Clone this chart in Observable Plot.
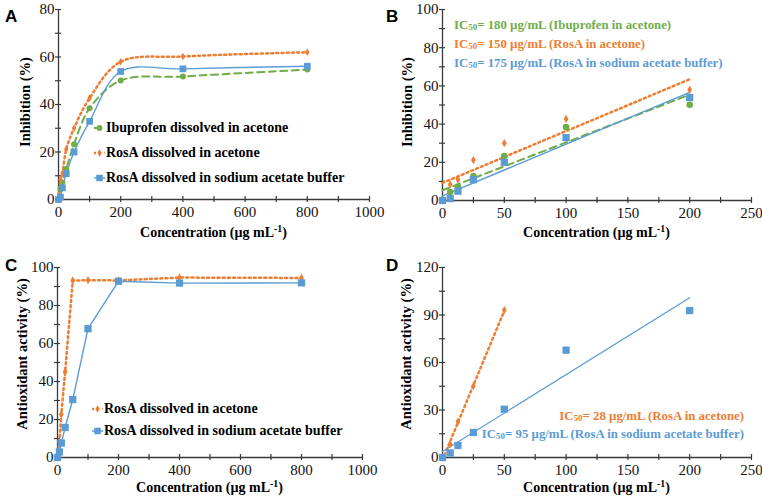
<!DOCTYPE html>
<html><head><meta charset="utf-8">
<script src="https://cdn.jsdelivr.net/npm/d3@7"></script>
<script src="https://cdn.jsdelivr.net/npm/@observablehq/plot@0.6"></script>
<style>
body{margin:0;background:#fff;}
#wrap{position:relative;width:762px;height:500px;font-family:'Liberation Serif',serif;color:#000;overflow:hidden;}
.panel{position:absolute;width:381px;height:250px;}
.plab{position:absolute;font-family:'Liberation Sans',sans-serif;font-weight:bold;font-size:17px;line-height:1;}
.t{position:absolute;font-weight:bold;white-space:nowrap;line-height:1;font-family:'Liberation Serif',serif;}
.xt{font-size:14px;text-align:center;}
.yt{font-size:14.5px;transform:translate(-50%,-50%) rotate(-90deg);}
.leg{font-size:14px;display:flex;align-items:center;transform:translateY(-50%);}
.leg svg{margin-right:1px;}
.ann{font-size:12.8px;transform:translateY(-50%);}
sub{font-size:70%;vertical-align:-0.2em;line-height:0;}
sup{font-size:70%;vertical-align:0.5em;line-height:0;}
</style>
</head><body>
<div id="wrap"></div>
<script>
// ---------------- data ----------------
const conc = [0, 6.25, 12.5, 25, 50, 100, 200, 400, 800];
// Inhibition (%) – panels A and B
const inhIbuprofenAcetone = [0, 4.4, 7.2, 12.8, 23.3, 38.4, 50.1, 51.8, 54.7];
const inhRosAAcetone      = [0, 8.4, 11.0, 21.2, 30.0, 42.7, 58.0, 60.2, 62.0];
const inhRosABuffer       = [0, 1.0, 4.9, 10.9, 20.0, 32.9, 53.9, 55.0, 56.1];
// Antioxidant activity (%) – panels C and D
const antiRosAAcetone = [0, 8.4, 22.7, 45.1, 93.1, 93.3, 93.2, 94.7, 94.5];
const antiRosABuffer  = [0, 2.9, 7.6, 15.8, 30.5, 67.8, 92.8, 91.8, 91.9];

const seriesNames = ["Ibuprofen dissolved in acetone", "RosA dissolved in acetone", "RosA dissolved in sodium acetate buffer"];
const icLabelsB = ["IC<sub>50</sub>= 180 µg/mL (Ibuprofen in acetone)", "IC<sub>50</sub>= 150 µg/mL (RosA in acetone)", "IC<sub>50</sub>= 175 µg/mL (RosA in sodium acetate buffer)"];
const icLabelsD = ["IC<sub>50</sub>= 28 µg/mL (RosA in acetone)", "IC<sub>50</sub>= 95 µg/mL (RosA in sodium acetate buffer)"];

const xMajorWide = [0, 200, 400, 600, 800, 1000];
const xMinorWide = [0, 100, 200, 300, 400, 500, 600, 700, 800, 900, 1000];
const xMajorNarrow = [0, 50, 100, 150, 200, 250];
const xMinorNarrow = [0, 25, 50, 75, 100, 125, 150, 175, 200, 225, 250];
const yMajorA = [0, 20, 40, 60, 80];
const yMinorA = [0, 10, 20, 30, 40, 50, 60, 70, 80];
const yMajorB = [0, 20, 40, 60, 80, 100];
const yMinorB = [0, 10, 20, 30, 40, 50, 60, 70, 80, 90, 100];
const yMajorD = [0, 30, 60, 90, 120];
const yMinorD = [0, 15, 30, 45, 60, 75, 90, 105, 120];

const GREEN = "#70AD47", ORANGE = "#ED7D31", BLUE = "#5B9BD5", AXIS = "#3a3a3a";
const XTITLE = "Concentration (µg mL<sup>-1</sup>)";

const rows = (ys, n) => conc.slice(0, n ?? conc.length).map((x, i) => ({x, y: ys[i]}));

const styles = {
  green:  {stroke: GREEN,  strokeWidth: 2,   strokeDasharray: "7,4.5", symbol: "circle",  r: 3.3},
  orange: {stroke: ORANGE, strokeWidth: 2.5, strokeDasharray: "2,3.2", symbol: "diamond", r: 2.5},
  blue:   {stroke: BLUE,   strokeWidth: 1.4, strokeDasharray: null,    symbol: "square",  r: 4.1}
};

function dots(data, s) {
  return Plot.dot(data, {x: "x", y: "y", symbol: () => s.symbol, fill: s.stroke, stroke: "none", r: s.r});
}
function line(data, s, curve) {
  return Plot.line(data, {x: "x", y: "y", stroke: s.stroke, strokeWidth: s.strokeWidth, strokeDasharray: s.strokeDasharray, curve});
}
function reg(data, s) {
  return Plot.linearRegressionY(data, {x: "x", y: "y", stroke: s.stroke, strokeWidth: s.strokeWidth, strokeDasharray: s.strokeDasharray, ci: 0});
}

const wrap = document.getElementById("wrap");

function panel({left, top, m, xDomain, xMajor, xMinor, yDomain, yMajor, yMinor, layers}) {
  const chart = Plot.plot({
    width: 381, height: 250,
    marginLeft: m[0], marginRight: m[1], marginTop: m[2], marginBottom: m[3],
    x: {type: "linear", domain: xDomain},
    y: {type: "linear", domain: yDomain},
    style: {fontFamily: "'Liberation Serif', serif", fontSize: "15px", color: "#000", background: "transparent", overflow: "visible"},
    marks: [
      Plot.ruleX([xDomain[0]], {stroke: AXIS, strokeWidth: 1.3}),
      Plot.ruleY([yDomain[0]], {stroke: AXIS, strokeWidth: 1.3}),
      Plot.axisX(xMinor, {tickSize: 6, dy: -3, tickFormat: () => "", label: null, stroke: AXIS, strokeWidth: 1.2}),
      Plot.axisX(xMajor, {tickSize: 0, tickPadding: 7, label: null, fontSize: 15, fill: "#111", tickFormat: String}),
      Plot.axisY(yMinor, {tickSize: 6, dx: 3, tickFormat: () => "", label: null, stroke: AXIS, strokeWidth: 1.2}),
      Plot.axisY(yMajor, {tickSize: 0, tickPadding: 4, label: null, fontSize: 15, fill: "#111", tickFormat: String}),
      ...layers
    ]
  });
  const div = document.createElement("div");
  div.className = "panel";
  div.style.left = left + "px";
  div.style.top = top + "px";
  div.appendChild(chart);
  wrap.appendChild(div);
}

function text(cls, html, left, top, extra = {}) {
  const d = document.createElement("div");
  d.className = cls;
  d.innerHTML = html;
  d.style.left = left + "px";
  d.style.top = top + "px";
  Object.assign(d.style, extra);
  wrap.appendChild(d);
  return d;
}

function swatch(s) {
  const ns = "http://www.w3.org/2000/svg";
  const svg = document.createElementNS(ns, "svg");
  svg.setAttribute("width", 11); svg.setAttribute("height", 10);
  const l = document.createElementNS(ns, "line");
  l.setAttribute("x1", 0); l.setAttribute("x2", 11); l.setAttribute("y1", 5); l.setAttribute("y2", 5);
  l.setAttribute("stroke", s.stroke); l.setAttribute("stroke-width", s.strokeWidth);
  if (s.strokeDasharray) l.setAttribute("stroke-dasharray", s.strokeDasharray);
  svg.appendChild(l);
  const p = document.createElementNS(ns, "path");
  p.setAttribute("d", d3.symbol(s.symbol === "circle" ? d3.symbolCircle : s.symbol === "square" ? d3.symbolSquare : d3.symbolDiamond, Math.PI * s.r * s.r * 0.8)());
  p.setAttribute("transform", "translate(5.5,5)");
  p.setAttribute("fill", s.stroke);
  svg.appendChild(p);
  return svg;
}
function legendRow(s, label, left, top) {
  const d = text("t leg", "", left, top);
  d.appendChild(swatch(s));
  const span = document.createElement("span");
  span.textContent = label;
  d.appendChild(span);
}

// ---------- Panel A ----------
panel({left: 0, top: 0, m: [58, 12, 9, 51], xDomain: [0, 1000], xMajor: xMajorWide, xMinor: xMinorWide,
  yDomain: [0, 80], yMajor: yMajorA, yMinor: yMinorA,
  layers: [
    line(rows(inhIbuprofenAcetone), styles.green, "catmull-rom"),
    line(rows(inhRosAAcetone), styles.orange, "catmull-rom"),
    line(rows(inhRosABuffer), styles.blue, "catmull-rom"),
    dots(rows(inhIbuprofenAcetone), {...styles.green, r: 3}),
    dots(rows(inhRosAAcetone), {...styles.orange, r: 2.3}),
    dots(rows(inhRosABuffer), {...styles.blue, r: 3.8})
  ]});
legendRow(styles.green, seriesNames[0], 94, 128);
legendRow(styles.orange, seriesNames[1], 94, 153);
legendRow(styles.blue, seriesNames[2], 94, 178);

// ---------- Panel B ----------
panel({left: 381, top: 0, m: [61, 11, 9, 50], xDomain: [0, 250], xMajor: xMajorNarrow, xMinor: xMinorNarrow,
  yDomain: [0, 100], yMajor: yMajorB, yMinor: yMinorB,
  layers: [
    reg(rows(inhIbuprofenAcetone, 7), styles.green),
    reg(rows(inhRosAAcetone, 7), styles.orange),
    reg(rows(inhRosABuffer, 7), styles.blue),
    dots(rows(inhIbuprofenAcetone, 7), styles.green),
    dots(rows(inhRosAAcetone, 7), styles.orange),
    dots(rows(inhRosABuffer, 7), styles.blue)
  ]});
text("t ann", icLabelsB[0], 454, 25, {color: GREEN});
text("t ann", icLabelsB[1], 454, 44, {color: ORANGE});
text("t ann", icLabelsB[2], 454, 63, {color: BLUE});

// ---------- Panel C ----------
panel({left: 0, top: 250, m: [57, 19, 17, 43], xDomain: [0, 1000], xMajor: xMajorWide, xMinor: xMinorWide,
  yDomain: [0, 100], yMajor: yMajorB, yMinor: yMinorB,
  layers: [
    line(rows(antiRosAAcetone), styles.orange, "linear"),
    line(rows(antiRosABuffer), styles.blue, "linear"),
    dots(rows(antiRosAAcetone), styles.orange),
    dots(rows(antiRosABuffer), styles.blue)
  ]});
legendRow(styles.orange, seriesNames[1], 92, 409);
legendRow(styles.blue, seriesNames[2], 92, 431);

// ---------- Panel D ----------
panel({left: 381, top: 250, m: [61, 11, 17, 43], xDomain: [0, 250], xMajor: xMajorNarrow, xMinor: xMinorNarrow,
  yDomain: [0, 120], yMajor: yMajorD, yMinor: yMinorD,
  layers: [
    reg(rows(antiRosAAcetone, 5), styles.orange),
    reg(rows(antiRosABuffer, 7), {...styles.blue, strokeWidth: 1.2}),
    dots(rows(antiRosAAcetone, 5), styles.orange),
    dots(rows(antiRosABuffer, 7), styles.blue)
  ]});
text("t ann", icLabelsD[0], 0, 416, {color: ORANGE, right: "18px", left: "auto", textAlign: "right"});
text("t ann", icLabelsD[1], 0, 434, {color: BLUE, right: "18px", left: "auto", textAlign: "right"});

// ---------- titles ----------
text("plab", "A", 5, 8); text("plab", "B", 386, 8);
text("plab", "C", 5, 257); text("plab", "D", 386, 257);
text("t xt", XTITLE, 58, 226, {width: "311px"});
text("t xt", XTITLE, 442, 226, {width: "309px"});
text("t xt", XTITLE, 57, 481, {width: "305px"});
text("t xt", XTITLE, 442, 481, {width: "309px"});
text("t yt", "Inhibition (%)", 25, 102);
text("t yt", "Inhibition (%)", 381 + 26, 102);
text("t yt", "Antioxidant activity (%)", 22, 354);
text("t yt", "Antioxidant activity (%)", 381 + 25, 354);
</script>
</body></html>
